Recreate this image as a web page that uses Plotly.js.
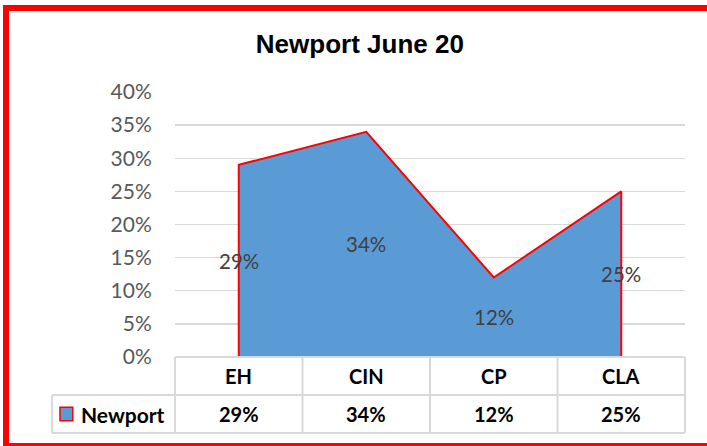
<!DOCTYPE html>
<html>
<head>
<meta charset="utf-8">
<script src="https://cdn.plot.ly/plotly-3.0.1.min.js"></script>
<style>
  html, body { margin: 0; padding: 0; background: #fff; overflow: hidden; }
  #chart { width: 707px; height: 446px; }
  #frame { position: absolute; left: 3px; top: 5px; width: 730px; height: 444px;
           box-sizing: border-box; border: 6px solid #FF0000; pointer-events: none; }
</style>
</head>
<body>
<div id="chart"></div>
<div id="frame"></div>
<script>
// ---- data ----
const categories = ["EH", "CIN", "CP", "CLA"];
const values = [0.29, 0.34, 0.12, 0.25];
const seriesName = "Newport";
const chartTitle = "Newport June 20";

const fmt = v => Math.round(v * 100) + "%";

// area outline (vertical edges at first/last category)
const areaX = [categories[0]].concat(categories, [categories[categories.length - 1]]);
const areaY = [0].concat(values, [0]);

const trace = {
  type: "scatter", mode: "lines",
  x: areaX, y: areaY,
  fill: "toself", fillcolor: "#5B9BD5",
  line: { color: "#FF0000", width: 2 },
  hoverinfo: "skip", showlegend: false
};

const gridGrey = "#D9D9D9";
const n = categories.length;
const rowTop = 0, rowMid = -0.1434, rowBot = -0.2868, legLeft = -0.241;

const shapes = [];
const line = (x0, y0, x1, y1) => shapes.push({ type: "line", xref: "paper", yref: "paper",
  x0, y0, x1, y1, line: { color: gridGrey, width: 2 }, layer: "above" });
line(0, rowTop, 1, rowTop);
line(legLeft, rowMid, 1, rowMid);
line(legLeft, rowBot, 1, rowBot);
for (let i = 0; i <= n; i++) line(i / n, rowTop, i / n, rowBot);
line(legLeft, rowMid, legLeft, rowBot);
// legend key
shapes.push({ type: "rect", xref: "paper", yref: "paper",
  x0: -0.2255, x1: -0.2005, y0: -0.190, y1: -0.241,
  fillcolor: "#5B9BD5", line: { color: "#FF0000", width: 1.5 }, layer: "above" });

const annotations = [];
categories.forEach((c, i) => {
  annotations.push({ xref: "paper", yref: "paper", x: (i + 0.5) / n, y: (rowTop + rowMid) / 2,
    text: c, showarrow: false, xanchor: "center", yanchor: "middle",
    font: { family: "Lato", size: 20, color: "#000000", weight: "bold" } });
  annotations.push({ xref: "paper", yref: "paper", x: (i + 0.5) / n, y: (rowMid + rowBot) / 2,
    text: fmt(values[i]), showarrow: false, xanchor: "center", yanchor: "middle",
    font: { family: "Lato", size: 20, color: "#000000", weight: "bold" } });
  // data labels in middle of area
  annotations.push({ xref: "x", yref: "y", x: c, y: values[i] / 2,
    text: fmt(values[i]), showarrow: false, xanchor: "center", yanchor: "middle",
    font: { family: "Lato", size: 20.5, color: "#404040" } });
});
annotations.push({ xref: "paper", yref: "paper", x: -0.188, y: (rowMid + rowBot) / 2,
  text: seriesName, showarrow: false, xanchor: "left", yanchor: "middle",
  font: { family: "Lato", size: 21, color: "#000000", weight: "bold" } });

const layout = {
  width: 707, height: 446,
  margin: { l: 175, r: 22, t: 92, b: 89 },
  paper_bgcolor: "#FFFFFF", plot_bgcolor: "#FFFFFF",
  title: { text: "<b>" + chartTitle + "</b>", xref: "container", yref: "container",
    x: 0.509, y: 0.901, xanchor: "center", yanchor: "middle",
    font: { family: "Liberation Sans, Arial", size: 26, color: "#000000" } },
  xaxis: { type: "category", categoryarray: categories, range: [-0.5, n - 0.5],
    showticklabels: false, showgrid: false, zeroline: false, showline: false, ticks: "" },
  yaxis: { range: [0, 0.4], dtick: 0.05, tickformat: ".0%",
    gridcolor: gridGrey, gridwidth: 1.3, zeroline: false, showline: false,
    ticks: "outside", ticklen: 18, tickcolor: "rgba(0,0,0,0)",
    tickfont: { family: "Lato", size: 21, color: "#595959" } },
  shapes, annotations, showlegend: false
};

Plotly.newPlot("chart", [trace], layout, { staticPlot: true, displayModeBar: false });
</script>
</body>
</html>
